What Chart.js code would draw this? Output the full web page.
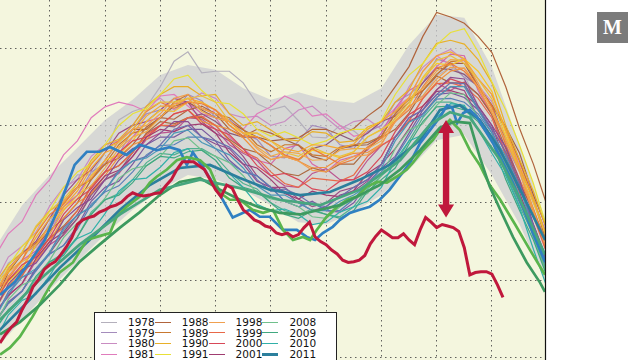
<!DOCTYPE html>
<html>
<head>
<meta charset="utf-8">
<script src="https://cdn.jsdelivr.net/npm/chart.js@4.4.1/dist/chart.umd.min.js"></script>
<style>
  body { margin: 0; width: 640px; height: 360px; overflow: hidden; background: #fff; position: relative; font-family: "DejaVu Sans", sans-serif; }
  #chartBox { position: absolute; left: 0; top: 0; width: 640px; height: 360px; }
  .legend { position: absolute; left: 94px; top: 312px; width: 243px; height: 112px; background: #fff; border: 1px solid #222; box-sizing: border-box; }
  .legend .sw { position: absolute; width: 16px; }
  .legend .lab { position: absolute; font-size: 10.5px; line-height: 11px; color: #111; }
  .logo { position: absolute; left: 597px; top: 12px; width: 31px; height: 31px; background: #7b7b7b; color: #fff; font-family: "Liberation Serif", serif; font-weight: bold; font-size: 20px; line-height: 31px; text-align: center; }
</style>
</head>
<body>
<div id="chartBox"><canvas id="myChart" width="640" height="360"></canvas></div>
<div class="legend" id="legend"></div>
<div class="logo">M</div>
<script>
// +/- 2 std band
const bandDays = [241,245,250,255,260,265,270,275,280,285,290,295,300,305,310,315,320,325,330,335,340];
const bandHigh = [25.52,25.97,26.36,26.71,27.07,27.33,27.65,27.78,27.72,27.48,27.33,27.43,27.33,27.29,27.48,28.04,28.43,28.39,27.75,26.75,25.72];
const bandLow  = [24.17,24.49,24.88,25.24,25.59,25.91,26.17,26.36,26.30,26.17,25.97,25.75,25.72,25.88,26.10,26.43,26.81,26.88,26.36,25.72,24.94];

// sampling days for the thin year lines
const days = [240,242.5,245,247.5,250,252.5,255,257.5,260,262.5,265,267.5,270,272.5,275,277.5,280,282.5,285,287.5,290,292.5,295,297.5,300,302.5,305,307.5,310,312.5,315,317.5,320,322.5,325,327.5,330,332.5,335,337.5,340];

const thinYears = [1978,1979,1980,1981,1982,1983,1984,1985,1986,1987,1988,1989,1990,1991,1992,1993,1994,1995,1996,1997,1998,1999,2000,2001,2002,2003,2004,2005,2006,2007,2008,2009,2010];
const thinColors = ['#b4b0bc','#a48cbc','#c98cc2','#e07cbc','#d468a8','#bc5490','#9c4c84','#8c5a7c','#a06048','#ac6a40',
  '#b0643c','#c87830','#e8b028','#e8e038','#f8c828','#f4a830','#f09038','#ec7c3c','#f0a848','#e8c040',
  '#f0a050','#e86848','#d84858','#a03c70','#8c4c90','#7a5aa0','#6a70b0','#5880b8','#4c98b8','#50b090',
  '#70c08c','#40a880','#30b0a8'];
const thinValues = [
  [24.85,25.22,25.35,25.42,25.74,26.15,26.36,26.36,26.65,27.07,27.18,27.24,27.50,27.83,27.95,27.68,27.70,27.70,27.55,27.28,27.20,27.25,27.06,26.85,26.84,27.00,26.93,26.78,26.86,27.20,27.35,27.38,27.64,27.75,27.66,27.25,26.95,26.70,26.25,25.66,25.26],
  [24.6,24.78,25.16,25.45,25.6,25.95,26.1,26.4,26.5,26.62,26.95,27.15,27.2,27.18,27.4,27.32,27.1,27.08,26.9,26.82,26.6,26.58,26.8,27.0,26.96,26.75,26.7,26.92,27.0,27.3,27.4,27.55,27.86,27.8,27.62,27.52,27.25,26.75,26.4,25.88,25.5],
  [24.95,25.3,25.44,25.62,25.96,26.2,26.3,26.6,26.75,26.8,27.0,27.25,27.35,27.2,27.3,27.42,27.35,27.15,27.1,27.12,27.0,27.05,27.2,27.25,27.1,26.95,27.05,27.08,26.95,27.15,27.5,27.75,27.9,27.98,27.84,27.52,27.3,26.98,26.55,26.0,25.6],
  [25.3,25.6,25.76,26.1,26.3,26.62,26.8,27.1,27.24,27.3,27.26,27.18,27.38,27.4,27.25,27.1,27.2,27.05,26.95,27.15,27.24,27.38,27.3,27.12,27.15,27.0,26.86,26.9,27.05,27.22,27.36,27.7,27.9,27.78,27.84,27.6,27.4,26.92,26.5,26.12,25.64],
  [24.7,25.05,25.26,25.38,25.66,25.95,26.1,26.35,26.5,26.62,26.85,27.05,27.1,27.28,27.3,27.15,27.1,26.85,26.7,26.55,26.5,26.7,26.75,26.5,26.4,26.55,26.6,26.68,26.9,27.22,27.45,27.55,27.76,27.92,27.9,27.45,27.14,26.85,26.45,25.85,25.36],
  [24.55,24.82,24.95,25.25,25.46,25.58,25.8,26.12,26.3,26.38,26.6,26.82,26.9,26.92,27.1,27.08,26.95,26.75,26.64,26.55,26.35,26.22,26.2,26.38,26.44,26.3,26.3,26.55,26.74,26.85,27.06,27.35,27.55,27.45,27.56,27.4,27.14,26.62,26.26,25.88,25.34],
  [24.8,25.15,25.35,25.5,25.8,26.1,26.3,26.42,26.65,26.9,27.0,27.05,27.2,27.35,27.3,27.05,26.9,26.8,26.6,26.35,26.2,26.2,26.05,25.95,26.0,26.15,26.2,26.3,26.5,26.85,27.05,27.15,27.36,27.5,27.45,27.1,26.86,26.55,26.14,25.6,25.06],
  [24.45,24.7,24.86,25.15,25.35,25.6,25.8,26.1,26.3,26.4,26.65,26.9,27.0,26.98,27.1,27.15,27.05,26.9,26.85,26.85,26.74,26.6,26.55,26.7,26.75,26.88,26.8,26.9,27.05,27.12,27.3,27.55,27.74,27.72,27.66,27.5,27.25,26.8,26.45,26.05,25.54],
  [24.7,25.1,25.34,25.45,25.7,26.02,26.2,26.3,26.55,26.8,26.95,26.95,27.1,27.25,27.3,27.2,27.1,27.05,26.94,26.85,26.8,26.82,26.74,26.6,26.55,26.7,26.74,26.75,26.86,27.15,27.34,27.45,27.66,27.8,27.8,27.5,27.26,26.98,26.64,26.1,25.66],
  [24.65,24.9,25.06,25.35,25.55,25.7,25.9,26.22,26.4,26.48,26.65,26.9,27.05,27.02,27.1,27.1,27.0,26.82,26.7,26.65,26.5,26.38,26.35,26.45,26.4,26.5,26.5,26.7,26.84,26.95,27.16,27.45,27.64,27.55,27.55,27.4,27.14,26.7,26.26,25.9,25.45],
  [24.75,25.0,25.16,25.45,25.64,25.8,26.0,26.3,26.5,26.58,26.75,26.98,27.1,27.08,27.2,27.25,27.15,26.95,26.86,26.95,26.9,26.82,26.84,26.95,26.95,26.88,26.96,27.12,27.25,27.5,27.76,28.15,28.46,28.4,28.32,28.15,27.94,27.5,26.96,26.5,25.96],
  [24.8,25.12,25.34,25.48,25.7,26.0,26.2,26.3,26.5,26.75,26.9,26.95,27.1,27.3,27.4,27.22,27.15,27.1,26.95,26.75,26.66,26.75,26.75,26.62,26.6,26.72,26.75,26.78,26.86,27.15,27.34,27.45,27.66,27.82,27.85,27.5,27.26,26.95,26.54,26.05,25.46],
  [24.95,25.2,25.36,25.68,25.9,26.0,26.25,26.55,26.75,26.82,27.0,27.25,27.4,27.5,27.5,27.38,27.4,27.15,27.0,27.05,26.94,26.82,26.8,26.92,26.9,26.78,26.8,26.98,27.05,27.3,27.46,27.8,28.06,28.1,28.05,27.85,27.55,27.0,26.56,26.15,25.64],
  [24.8,25.18,25.44,25.6,25.9,26.2,26.4,26.5,26.75,27.0,27.15,27.22,27.4,27.6,27.65,27.45,27.3,27.28,27.15,26.95,26.86,26.92,26.84,26.75,26.8,26.9,26.95,26.95,27.06,27.4,27.65,27.8,28.04,28.2,28.25,27.95,27.56,27.2,26.74,26.25,25.66],
  [24.75,24.98,25.16,25.45,25.7,25.92,26.05,26.35,26.55,26.62,26.8,27.05,27.2,27.18,27.3,27.3,27.2,27.0,26.9,26.85,26.74,26.6,26.56,26.68,26.64,26.58,26.66,26.85,26.95,27.05,27.26,27.6,27.8,27.78,27.86,27.7,27.44,26.9,26.46,26.05,25.54],
  [24.85,25.1,25.26,25.55,25.8,25.95,26.15,26.45,26.65,26.72,26.9,27.12,27.25,27.25,27.35,27.3,27.2,27.05,26.9,26.9,26.8,26.7,26.66,26.75,26.74,26.7,26.76,26.95,27.05,27.18,27.36,27.7,27.9,27.95,27.86,27.6,27.4,26.95,26.46,26.05,25.54],
  [24.6,24.92,25.14,25.25,25.5,25.8,26.0,26.12,26.35,26.6,26.75,26.82,27.0,27.15,27.2,27.05,27.0,26.95,26.84,26.65,26.56,26.6,26.54,26.45,26.46,26.58,26.64,26.65,26.76,27.05,27.25,27.35,27.56,27.7,27.74,27.48,27.16,26.8,26.44,25.92,25.36],
  [24.85,25.02,25.26,25.6,25.85,25.98,26.2,26.5,26.7,26.8,26.95,27.18,27.3,27.22,27.3,27.28,27.2,27.0,26.86,26.85,26.74,26.62,26.56,26.7,26.6,26.5,26.56,26.72,26.84,27.05,27.2,27.5,27.74,27.8,27.7,27.5,27.24,26.75,26.3,25.92,25.44],
  [24.7,25.05,25.24,25.35,25.6,25.9,26.1,26.22,26.45,26.7,26.85,26.92,27.1,27.28,27.35,27.18,27.1,27.05,26.9,26.72,26.6,26.66,26.64,26.55,26.56,26.68,26.7,26.7,26.8,27.1,27.35,27.48,27.7,27.85,27.84,27.55,27.2,26.85,26.44,25.9,25.36],
  [24.95,25.12,25.36,25.7,25.9,26.05,26.25,26.52,26.7,26.78,26.95,27.2,27.3,27.3,27.35,27.38,27.3,27.05,26.9,26.9,26.8,26.65,26.6,26.72,26.64,26.6,26.66,26.85,26.94,27.08,27.3,27.62,27.84,27.9,27.8,27.6,27.34,26.85,26.4,26.0,25.54],
  [24.8,25.15,25.34,25.45,25.7,26.02,26.2,26.32,26.55,26.8,26.95,27.0,27.15,27.35,27.4,27.22,27.15,27.05,26.9,26.7,26.56,26.6,26.54,26.42,26.4,26.52,26.6,26.62,26.76,27.05,27.24,27.38,27.6,27.75,27.74,27.5,27.16,26.8,26.4,25.85,25.36],
  [24.65,24.92,25.06,25.32,25.54,25.68,25.9,26.2,26.4,26.48,26.65,26.88,27.0,27.0,27.1,27.12,27.0,26.8,26.66,26.58,26.4,26.25,26.2,26.32,26.3,26.28,26.36,26.6,26.74,26.85,27.06,27.35,27.54,27.55,27.5,27.35,27.1,26.6,26.2,25.82,25.34],
  [24.7,25.0,25.2,25.3,25.55,25.85,26.05,26.18,26.4,26.65,26.8,26.85,27.0,27.15,27.2,27.02,26.95,26.88,26.7,26.48,26.35,26.38,26.3,26.18,26.15,26.28,26.3,26.4,26.6,26.92,27.14,27.25,27.46,27.6,27.54,27.2,26.96,26.66,26.24,25.7,25.2],
  [24.55,24.8,24.96,25.28,25.5,25.62,25.85,26.15,26.35,26.42,26.6,26.85,26.95,26.92,27.0,27.02,26.9,26.65,26.5,26.45,26.3,26.12,26.05,26.15,26.1,26.08,26.16,26.38,26.5,26.7,26.96,27.25,27.44,27.45,27.4,27.25,27.0,26.5,26.1,25.72,25.24],
  [24.6,24.95,25.14,25.22,25.46,25.78,25.94,26.05,26.3,26.55,26.7,26.75,26.9,27.05,27.05,26.85,26.76,26.7,26.5,26.28,26.2,26.15,26.0,25.9,25.95,26.1,26.15,26.28,26.5,26.85,27.1,27.2,27.46,27.62,27.6,27.25,27.0,26.72,26.3,25.72,25.26],
  [24.45,24.72,24.86,25.15,25.34,25.45,25.7,26.02,26.2,26.28,26.5,26.75,26.85,26.85,26.95,26.95,26.8,26.55,26.4,26.35,26.2,26.02,25.95,26.02,25.9,25.88,26.0,26.25,26.45,26.6,26.9,27.2,27.4,27.42,27.36,27.2,26.94,26.45,26.06,25.7,25.2],
  [24.5,24.85,25.04,25.12,25.36,25.68,25.84,25.95,26.16,26.42,26.54,26.6,26.75,26.95,27.0,26.85,26.8,26.72,26.55,26.3,26.15,26.18,26.1,25.98,25.95,26.08,26.2,26.3,26.5,26.85,27.1,27.2,27.4,27.55,27.54,27.22,26.96,26.65,26.24,25.7,25.2],
  [24.45,24.7,24.86,25.12,25.34,25.45,25.66,25.98,26.14,26.22,26.4,26.62,26.74,26.75,26.85,26.85,26.7,26.52,26.4,26.35,26.2,26.02,25.95,26.0,25.9,25.9,26.05,26.25,26.4,26.58,26.86,27.15,27.34,27.35,27.3,27.15,26.9,26.4,26.0,25.6,25.14],
  [24.5,24.82,25.04,25.15,25.36,25.65,25.84,25.95,26.16,26.4,26.54,26.58,26.7,26.9,26.94,26.78,26.7,26.62,26.45,26.22,26.1,26.1,26.0,25.9,25.9,26.02,26.1,26.22,26.45,26.8,27.04,27.12,27.36,27.5,27.5,27.2,26.9,26.6,26.2,25.65,25.16],
  [24.35,24.6,24.76,25.02,25.24,25.35,25.56,25.88,26.04,26.12,26.3,26.52,26.64,26.62,26.7,26.7,26.6,26.4,26.25,26.18,26.0,25.9,25.85,25.92,25.85,25.82,25.95,26.18,26.35,26.5,26.8,27.1,27.3,27.3,27.24,27.1,26.86,26.38,25.96,25.58,25.1],
  [24.4,24.75,24.94,25.02,25.26,25.55,25.74,25.85,26.06,26.32,26.44,26.48,26.6,26.8,26.84,26.68,26.6,26.52,26.35,26.12,26.05,26.02,25.95,25.82,25.8,25.95,26.05,26.12,26.35,26.7,26.94,27.02,27.26,27.42,27.4,27.1,26.8,26.5,26.1,25.55,25.06],
  [24.35,24.62,24.76,25.05,25.24,25.32,25.56,25.85,26.04,26.1,26.26,26.48,26.6,26.58,26.66,26.68,26.55,26.32,26.2,26.15,26.0,25.85,25.8,25.9,25.85,25.8,25.9,26.15,26.3,26.45,26.76,27.05,27.24,27.25,27.2,27.05,26.8,26.3,25.9,25.52,25.04],
  [24.2,24.55,24.74,24.82,25.06,25.35,25.54,25.62,25.86,26.15,26.3,26.32,26.46,26.65,26.7,26.52,26.45,26.38,26.2,25.98,25.9,25.92,25.85,25.72,25.75,25.88,25.95,26.02,26.2,26.55,26.8,26.88,27.1,27.28,27.26,26.95,26.64,26.35,25.94,25.4,24.9]
];

// recent years, thick lines
const days2011 = [241,246.4,251.8,257.2,262.7,268.1,273.5,279,284.4,289.8,295.3,300.7,306.1,311.5,317,320.6,324.2,327.8,331.5,335.1,339.6];
const vals2011 = [24.36,24.75,25.16,25.52,25.91,26.23,26.45,26.49,26.32,26.17,26.10,26.14,26.30,26.49,26.81,27.20,27.26,27.07,26.68,26.17,25.52];

const days2012 = [241,243.7,246.4,249.1,251.8,254.5,256.7,259,260.9,263.9,266.3,269.4,271.7,273.5,274.8,275.9,277.7,279.5,281.3,283.1,284.9,286.2,288,289.8,292.2,294.7,296.5,298,299.4,301.2,302.5,304.3,306.1,307.9,309.7,311.5,313.3,315.2,317,318.8,320.6,321.9,322.8,323.7,324.8,326,327.3,328.4,330.2,332,333.8,335.6,337.4,339.6];
const vals2012 = [24.81,24.98,25.24,25.52,25.97,26.49,26.66,26.66,26.72,26.62,26.75,26.68,26.72,26.68,26.49,26.65,26.46,26.26,26.04,25.81,25.87,25.91,25.82,25.82,25.65,25.65,25.56,25.52,25.61,25.69,25.78,25.87,25.91,25.95,26.04,26.17,26.34,26.52,26.77,26.94,27.11,27.26,27.23,27.03,27.16,27.20,27.11,26.98,26.77,26.52,26.26,25.95,25.61,25.24];

const days2013 = [241,242.8,244.6,246.9,250,251.8,254.2,256.7,258.5,260.9,262.1,263.9,266.3,268.1,269.4,271.2,273,274.8,277.2,279,280.8,282.6,284.4,286.7,288.6,290.4,292.2,294,295.8,297.1,298.3,300.1,302,303.8,305.6,307.4,309.2,311,312.8,314.6,315.7,317.5,319.3,320.6,322.4,324.2,326,327.8,329.6,331.5,334.2,336.9,339.6];
const vals2013 = [24.04,24.13,24.27,24.53,24.92,25.10,25.23,25.52,25.56,25.61,25.82,25.95,26.08,26.26,26.34,26.43,26.55,26.59,26.55,26.43,26.13,26.04,26.04,25.91,25.87,25.91,25.65,25.52,25.56,25.52,25.65,25.82,25.95,26.04,26.08,26.21,26.27,26.26,26.34,26.43,26.52,26.68,26.81,26.94,27.07,26.94,26.68,26.49,26.23,26.04,25.72,25.39,25.07];

const days2014 = [241,244.6,248.2,251.8,255.4,259,262.7,266.3,269.9,273.5,277.2,280.8,284.4,288,291.6,295.3,298.9,302.5,306.1,309.7,313.4,317,320.6,323.3,326,327.8,329.6,331.5,333.8,336.3,338.7,339.6];
const vals2014 = [24.30,24.46,24.68,24.94,25.24,25.46,25.68,25.88,26.10,26.27,26.32,26.17,26.04,25.94,25.87,25.85,25.91,25.97,26.10,26.23,26.43,26.68,26.97,27.05,27.03,26.59,26.21,25.91,25.56,25.23,24.97,24.85];

const days2015 = [241,248.2,255.4,262.7,269.9,277.2,284.4,291.6,298.9,306.1,313.4,318.8,322.4,326,331.5,335.1,339.6];
const vals2015 = [24.49,25.01,25.46,25.85,26.17,26.30,26.19,26.04,25.97,26.17,26.55,27.01,27.17,27.10,26.55,26.04,25.33];

const days2016 = [241,242,243,244,245,246,247,248,249,250,251,252,253,254,255,256,257,258,259,260,261,262,263,264,265,266,267,268,269,270,271,272,273,274,275,276,277,278,279,280,281,282,283,284,285,286,287,288,289,290,291,292,293,294,295,296,297,298,299,300,301,302,303,304,305,306,307,308,309,310,311,312,313,314,315,316,317,318,319,320,321,322,323,324,325,326,327,328,329,330,331,332];
const vals2016 = [24.19,24.30,24.39,24.46,24.62,24.75,24.92,25.01,25.14,25.20,25.24,25.33,25.43,25.55,25.72,25.78,25.81,25.83,25.88,25.91,25.95,25.97,26.01,26.08,26.13,26.10,26.09,26.10,26.12,26.13,26.22,26.30,26.43,26.53,26.53,26.53,26.48,26.43,26.30,26.17,26.08,26.23,26.19,26.04,25.91,25.85,25.78,25.75,25.70,25.68,25.61,25.59,25.61,25.56,25.59,25.68,25.75,25.56,25.50,25.46,25.39,25.34,25.26,25.23,25.24,25.26,25.32,25.47,25.57,25.65,25.60,25.55,25.55,25.60,25.52,25.46,25.65,25.81,25.75,25.68,25.72,25.70,25.68,25.63,25.42,25.07,25.10,25.11,25.11,25.08,24.94,24.78];

// gap arrow (day, top value, bottom value)
const arrowDay = 321.7;
const arrowTop = 27.07;
const arrowBottom = 25.81;

const recent = [
  { year: 2011, days: days2011, vals: vals2011, color: '#2b7f9d' },
  { year: 2012, days: days2012, vals: vals2012, color: '#2f80c2' },
  { year: 2013, days: days2013, vals: vals2013, color: '#5ab54c' },
  { year: 2014, days: days2014, vals: vals2014, color: '#3d9a5f' },
  { year: 2015, days: days2015, vals: vals2015, color: '#47a67e' },
  { year: 2016, days: days2016, vals: vals2016, color: '#c0183c' }
];

function pts(xs, ys) { return xs.map((x, i) => ({ x: x, y: ys[i] })); }

const datasets = [
  { label: 'band', data: pts(bandDays, bandHigh), borderWidth: 0, backgroundColor: 'rgba(205,205,210,0.75)', fill: '+1', order: 200 },
  { label: 'bandLow', data: pts(bandDays, bandLow), borderWidth: 0, fill: false, order: 201 }
];
thinYears.forEach((y, i) => {
  datasets.push({ label: String(y), data: pts(days, thinValues[i]), borderColor: thinColors[i], borderWidth: 1.2, fill: false, order: 2100 - y });
});
recent.forEach(r => {
  datasets.push({ label: String(r.year), data: pts(r.days, r.vals), borderColor: r.color, borderWidth: r.year === 2016 ? 3 : 2.7, fill: false, order: 2100 - r.year });
});

const plotDeco = {
  id: 'plotDeco',
  beforeDraw(chart) {
    const { ctx, chartArea: a } = chart;
    ctx.save();
    ctx.fillStyle = '#f4f6de';
    ctx.fillRect(a.left, a.top, a.right - a.left, a.bottom - a.top);
    ctx.restore();
  },
  afterDatasetsDraw(chart) {
    const { ctx, chartArea: a, scales } = chart;
    const x = scales.x.getPixelForValue(arrowDay);
    const y1 = scales.y.getPixelForValue(arrowTop);
    const y2 = scales.y.getPixelForValue(arrowBottom);
    const hw = 8, hl = 13, sw = 3.2;
    ctx.save();
    ctx.fillStyle = '#c0183c';
    ctx.beginPath();
    ctx.moveTo(x, y1);
    ctx.lineTo(x + hw, y1 + hl);
    ctx.lineTo(x + sw, y1 + hl);
    ctx.lineTo(x + sw, y2 - hl);
    ctx.lineTo(x + hw, y2 - hl);
    ctx.lineTo(x, y2);
    ctx.lineTo(x - hw, y2 - hl);
    ctx.lineTo(x - sw, y2 - hl);
    ctx.lineTo(x - sw, y1 + hl);
    ctx.lineTo(x - hw, y1 + hl);
    ctx.closePath();
    ctx.fill();
    // right spine
    ctx.strokeStyle = '#111';
    ctx.lineWidth = 1.2;
    ctx.beginPath();
    ctx.moveTo(a.right + 0.5, a.top);
    ctx.lineTo(a.right + 0.5, a.bottom);
    ctx.stroke();
    ctx.restore();
  }
};

const ctx = document.getElementById('myChart');
new Chart(ctx, {
  type: 'line',
  data: { datasets: datasets },
  options: {
    responsive: false,
    animation: false,
    events: [],
    layout: { padding: { left: 0, right: 95, top: 0, bottom: 0 } },
    elements: { point: { radius: 0 }, line: { tension: 0 } },
    plugins: { legend: { display: false }, tooltip: { enabled: false } },
    scales: {
      x: {
        type: 'linear', min: 241, max: 339.6,
        afterBuildTicks: s => { s.ticks = [250,260,270,280,290,300,310,320,330].map(v => ({ value: v })); },
        afterFit: s => { s.height = 0; },
        ticks: { display: false },
        grid: { color: 'rgba(70,70,70,0.85)', lineWidth: 1, drawTicks: false },
        border: { display: false, dash: [1.5, 3.5] }
      },
      y: {
        min: 23.97, max: 28.62,
        afterBuildTicks: s => { s.ticks = [24,25,26,27,28].map(v => ({ value: v })); },
        afterFit: s => { s.width = 0; },
        ticks: { display: false },
        grid: { color: 'rgba(70,70,70,0.85)', lineWidth: 1, drawTicks: false },
        border: { display: false, dash: [1.5, 3.5] }
      }
    }
  },
  plugins: [plotDeco]
});

// legend: 4 columns of 10 years, column-major like the original
const legendYears = thinYears.concat(recent.map(r => r.year));
const legendColors = thinColors.concat(recent.map(r => r.color));
const legend = document.getElementById('legend');
legendYears.forEach((y, i) => {
  const col = Math.floor(i / 10), row = i % 10;
  const cy = 9.5 + row * 10.7;
  const thick = y >= 2011;
  const sw = document.createElement('div');
  sw.className = 'sw';
  sw.style.left = (6 + col * 53.8) + 'px';
  sw.style.top = (cy - (thick ? 1.5 : 0.75)) + 'px';
  sw.style.borderTop = (thick ? 3 : 1.5) + 'px solid ' + legendColors[i];
  legend.appendChild(sw);
  const lab = document.createElement('div');
  lab.className = 'lab';
  lab.style.left = (33 + col * 53.8) + 'px';
  lab.style.top = (cy - 5.5) + 'px';
  lab.textContent = y;
  legend.appendChild(lab);
});
</script>
</body>
</html>
